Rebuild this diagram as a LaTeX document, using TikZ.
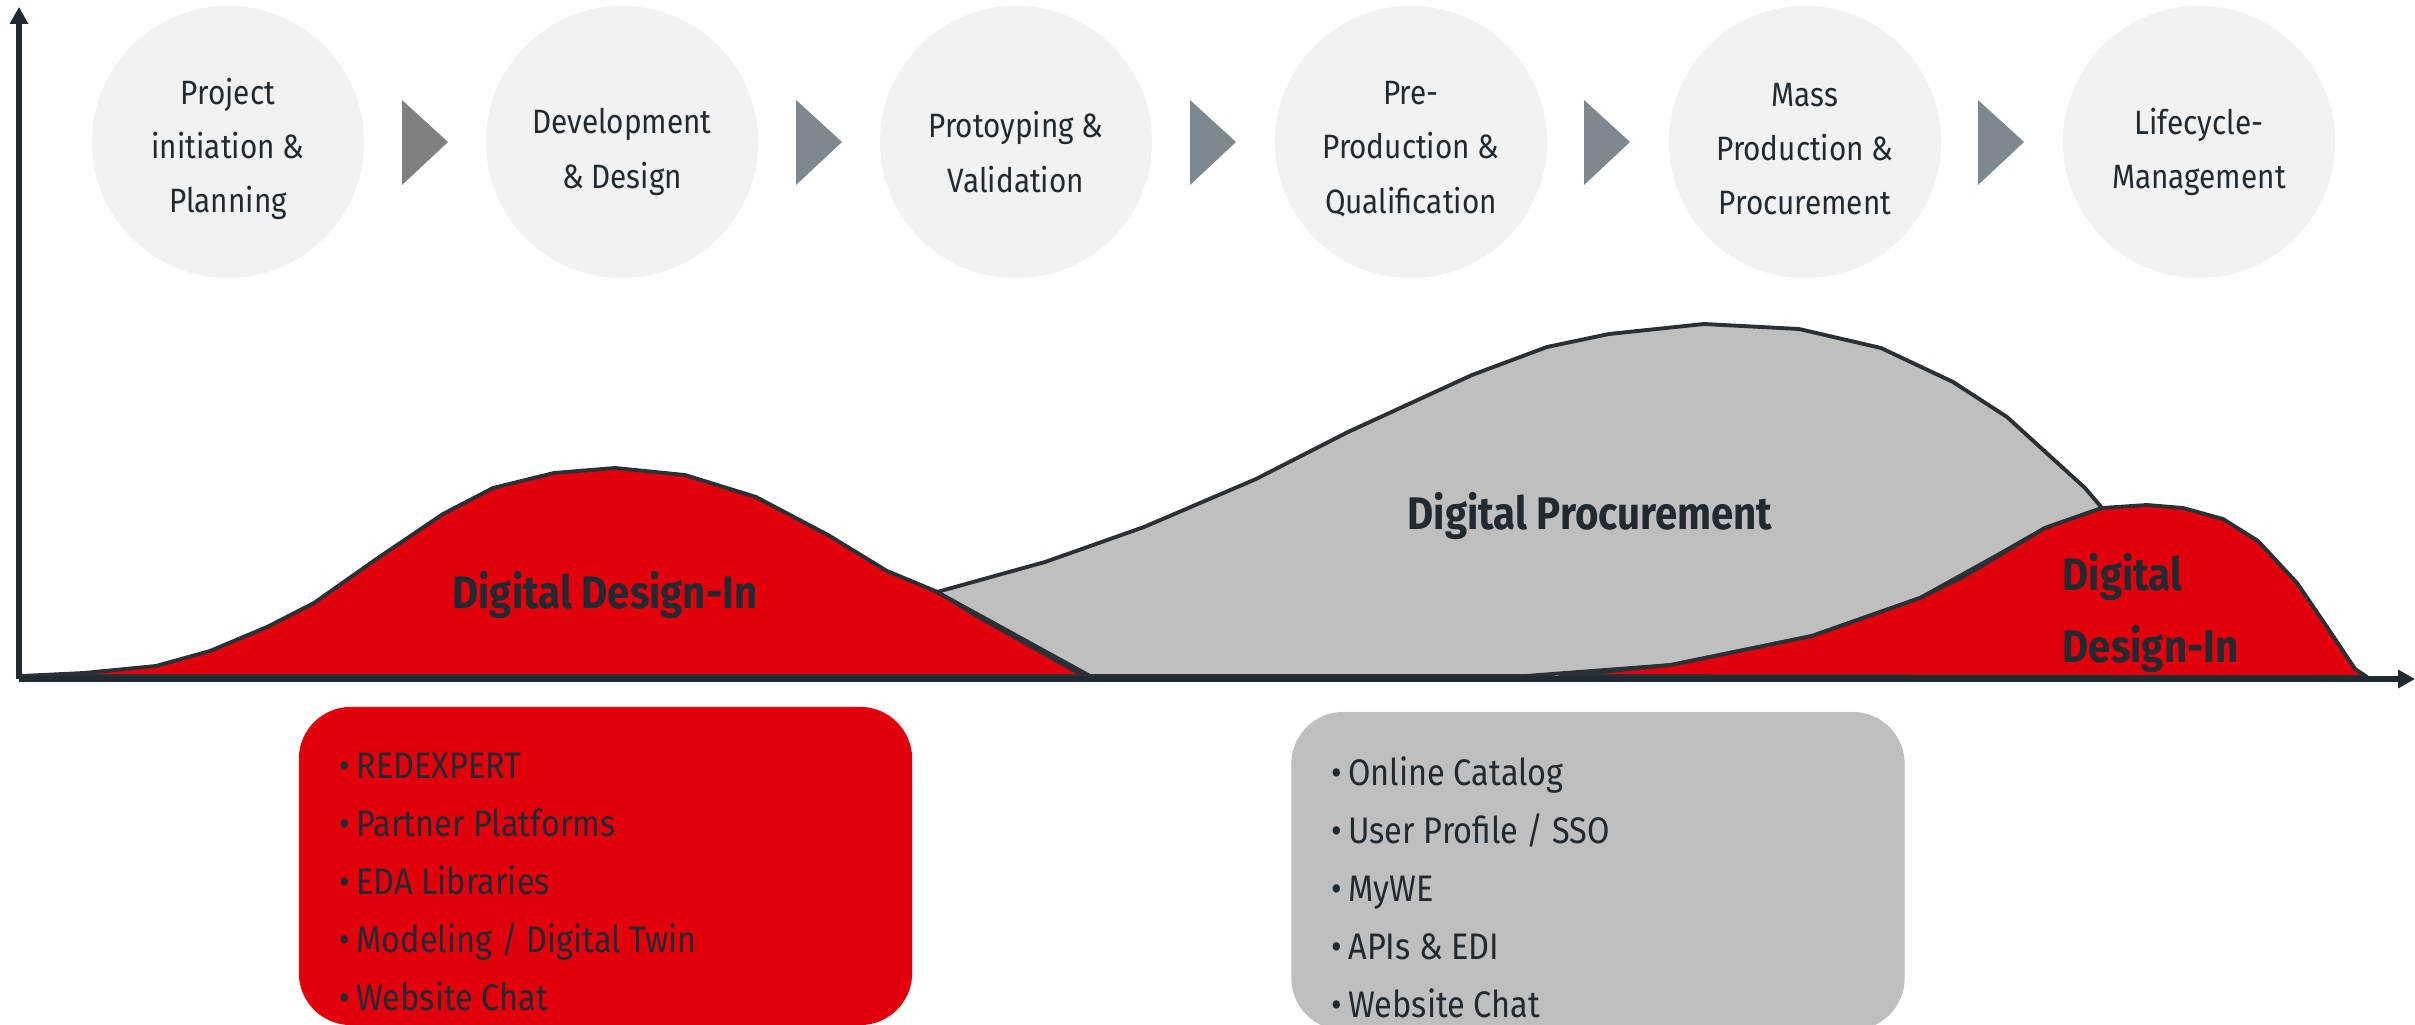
\documentclass[tikz,border=0pt]{standalone}
\usepackage{fontspec}
\setmainfont[FakeStretch=0.88]{Fira Sans}
\usetikzlibrary{arrows.meta}
\usetikzlibrary{shapes}
\definecolor{wered}{HTML}{E1000B}
\definecolor{wegray}{HTML}{BFBFBF}
\definecolor{phasegray}{HTML}{F2F2F2}
\definecolor{ink}{HTML}{212A31}
\definecolor{chevgray}{HTML}{7E888F}
\definecolor{humpline}{HTML}{2B3034}

\begin{document}
\begin{tikzpicture}[x=0.01cm,y=-0.01cm]
\tikzstyle{phase}=[circle,fill=phasegray,minimum size=2.72cm,inner sep=0pt]
\tikzstyle{phasetext}=[align=center,inner sep=0pt,text=ink,font=\fontsize{9.6}{15.4}\selectfont]
\tikzstyle{chev}=[fill=chevgray]
\tikzstyle{hump}=[draw=humpline,line width=1.1pt,line join=round]
\tikzstyle{axis}=[draw=ink,line width=1.6pt,-{Triangle[length=4.8pt,width=5pt]}]
\tikzstyle{toolbox}=[rounded corners=0.52cm,minimum width=6.13cm,minimum height=3.18cm,inner sep=0pt]
\tikzstyle{toollist}=[align=left,anchor=north west,inner sep=0pt,text=ink,font=\fontsize{10.5}{16.5}\selectfont]
\tikzstyle{bigname}=[text=ink,inner sep=0pt,font=\fontsize{13}{20.5}\selectfont\bfseries]
\useasboundingbox (0,0) rectangle (2415,1025);

% phases
\node[phase] (p1) at (228,142) {};
\node[phase] (p2) at (622,142) {};
\node[phase] (p3) at (1016,142) {};
\node[phase] (p4) at (1411,142) {};
\node[phase] (p5) at (1805,142) {};
\node[phase] (p6) at (2199,142) {};
\node[phasetext] (t1) at (228,149) {Project\\initiation \&\\Planning};
\node[phasetext] (t2) at (622,152) {Development\\\& Design};
\node[phasetext] (t3) at (1016,152) {Protoyping \&\\Validation};
\node[phasetext] (t4) at (1411,149) {Pre-\\Production \&\\Qualification};
\node[phasetext] (t5) at (1805,149) {Mass\\Production \&\\Procurement};
\node[phasetext] (t6) at (2199,152) {Lifecycle-\\Management};

\fill[chev,fill=gray] (402,100) -- (448,142) -- (402,185) -- cycle;
\fill[chev] (796,100) -- (842,142) -- (796,185) -- cycle;
\fill[chev] (1190,100) -- (1236,142) -- (1190,185) -- cycle;
\fill[chev] (1584,100) -- (1630,142) -- (1584,185) -- cycle;
\fill[chev] (1978,100) -- (2024,142) -- (1978,185) -- cycle;

% humps
\draw[hump,fill=wered] (21,676) -- (84,673) -- (156,666) -- (210,651) -- (267,627) -- (314,603) -- (375,560) -- (443,514) -- (493,488) -- (554,473) -- (615,468) -- (685,475) -- (756,497) -- (828,535) -- (887,571) -- (940,593) -- (975,615) -- (1084,676) -- cycle;
\draw[hump,fill=wegray] (937,592) -- (1045,562) -- (1144,527) -- (1256,479) -- (1348,432) -- (1472,375) -- (1547,347) -- (1609,334) -- (1704,324) -- (1799,329) -- (1881,348) -- (1953,382) -- (2007,417) -- (2085,488) -- (2102,508) -- (2045,528) -- (1994,557) -- (1920,598) -- (1812,636) -- (1671,665) -- (1526,676) -- (1090,676) -- cycle;
\draw[hump,fill=wered] (1560,676) -- (1671,665) -- (1812,636) -- (1920,598) -- (1963,577) -- (2000,555) -- (2045,528) -- (2102,508) -- (2147,505) -- (2183,508) -- (2223,519) -- (2258,541) -- (2297,583) -- (2327,627) -- (2355,669) -- (2367,677) -- cycle;

\node[bigname,anchor=base] (dleft) at (605,609) {Digital Design-In};
\node[bigname,anchor=base] (dproc) at (1590,530) {Digital Procurement};
\node[bigname,align=left,anchor=north west] (dright) at (2062,553) {Digital\\Design-In};

% axes
\coordinate (origin) at (19,679);
\coordinate (ytop) at (19,7);
\coordinate (xend) at (2415,679);
\draw[axis] (origin) -- (ytop);
\draw[axis] (origin) -- (xend);

% tool boxes
\node[toolbox,fill=wered] (ditools) at (605.5,866) {};
\node[toolbox,fill=wegray] (dptools) at (1598,871) {};
\node[toollist] (dilist) at (339,752) {•\,REDEXPERT\\•\,Partner Platforms\\•\,EDA Libraries\\•\,Modeling / Digital Twin\\•\,Website Chat};
\node[toollist] (dplist) at (1331,756) {•\,Online Catalog\\•\,User Profile / SSO\\•\,MyWE\\•\,APIs \& EDI\\•\,Website Chat};
\end{tikzpicture}
\end{document}
